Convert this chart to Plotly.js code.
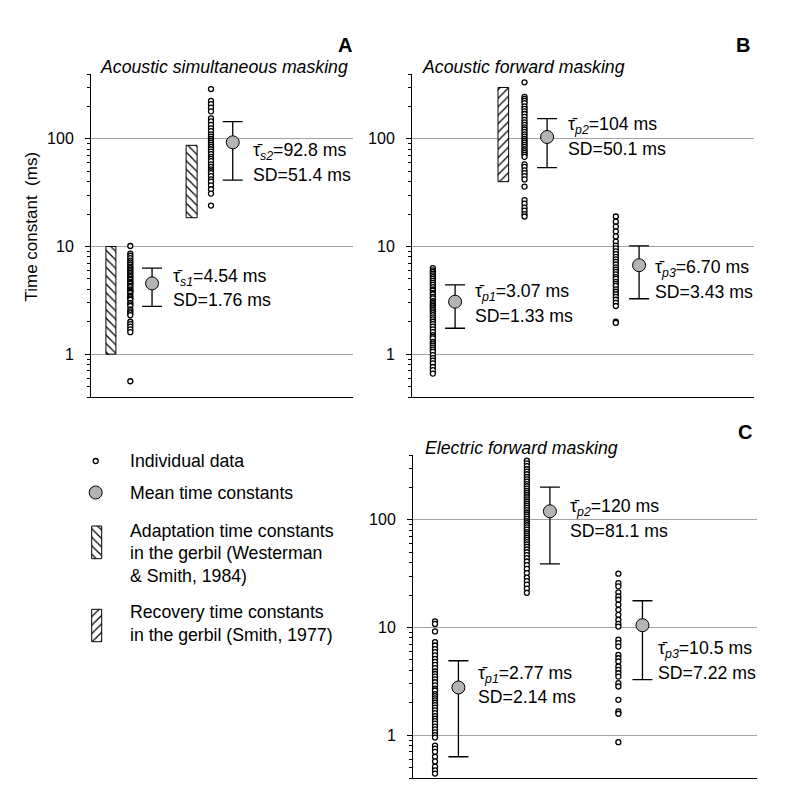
<!DOCTYPE html>
<html>
<head>
<meta charset="utf-8">
<script src="https://cdn.plot.ly/plotly-3.0.1.min.js"></script>
<style>
  body { margin: 0; background: white; }
  #chart { width: 800px; height: 802px; }
</style>
</head>
<body>
<div id="chart"></div>
<script>
// individual time constants (ms)
let simS1 = [10.1, 8.6, 8.2, 7.8, 7.4, 7.1, 6.8, 6.5, 6.3, 6.1, 5.9, 5.7, 5.5, 5.3, 5.2, 5.0, 4.9, 4.7, 4.6, 4.5,
    4.3, 4.2, 4.0, 3.9, 3.8, 3.7, 3.5, 3.4, 3.3, 3.2, 3.0, 2.9, 2.8, 2.6, 2.5, 2.4, 2.3, 2.0, 1.9, 1.8, 1.7, 1.6, 0.56];
let simS2 = [290, 225, 210, 195, 180, 155, 145, 135, 125, 118, 110, 105, 100, 96, 92, 88, 84, 80, 76, 72,
    68, 65, 62, 58, 55, 52, 50, 48, 45, 42, 40, 37, 34, 31, 24];

let acFwdP1 = [6.3, 6.0, 5.8, 5.6, 5.4, 5.2, 5.0, 4.8, 4.6, 4.4, 4.2, 4.0, 3.9, 3.7, 3.6, 3.4, 3.3, 3.1, 3.0, 2.9,
    2.8, 2.7, 2.6, 2.5, 2.4, 2.3, 2.2, 2.1, 2.0, 1.9, 1.8, 1.7, 1.6, 1.5, 1.45, 1.4, 1.3, 1.25, 1.2, 1.15,
    1.1, 1.05, 0.98, 0.92, 0.87, 0.82, 0.76, 0.71, 0.66];
let acFwdP2 = [335, 245, 235, 225, 215, 200, 190, 180, 170, 160, 150, 142, 135, 128, 122, 116, 110, 105, 100, 96,
    92, 88, 84, 80, 77, 74, 71, 68, 58, 55, 51, 48, 45, 42, 36, 27, 25, 23, 21.5, 20, 19];
let acFwdP3 = [19, 17, 15.3, 13.8, 12.4, 11.1, 10.2, 9.6, 9.0, 8.5, 8.0, 7.6, 7.2, 6.8, 6.4, 6.1, 5.8, 5.5, 5.2, 5.0,
    4.7, 4.5, 4.3, 4.0, 3.8, 3.6, 3.4, 3.2, 3.0, 2.8, 2.0, 1.95];

let elFwdP1 = [11.4, 10.8, 9.2, 7.3, 6.8, 6.3, 5.9, 5.5, 5.1, 4.8, 4.5, 4.2, 3.9, 3.7, 3.5, 3.3, 3.1, 2.9, 2.7, 2.6,
    2.4, 2.3, 2.2, 2.1, 2.0, 1.9, 1.8, 1.7, 1.6, 1.5, 1.42, 1.35, 1.28, 1.2, 1.13, 1.06, 1.0, 0.95, 0.8, 0.75,
    0.7, 0.63, 0.57, 0.51, 0.47, 0.44];
let elFwdP2 = [354, 335, 315, 295, 280, 265, 250, 238, 226, 215, 205, 195, 186, 178, 170, 162, 155, 148, 141, 135,
    129, 123, 117, 112, 107, 102, 97, 93, 89, 85, 81, 77, 74, 71, 68, 65, 62, 59, 56, 53,
    50, 47, 44, 41, 38, 35, 32, 29, 27, 25, 23, 21];
let elFwdP3 = [31.6, 25.8, 24.1, 21.2, 19.4, 18.1, 16.3, 14.6, 13.1, 11.8, 10.8, 10.2, 7.7, 7.15, 6.65, 5.56, 5.18,
    4.83, 4.34, 4.04, 3.76, 3.5, 3.04, 2.83, 2.13, 1.66, 1.58, 0.86];

// means and SDs
let meansA = [4.54, 92.8];
let sdsA = [1.76, 51.4];
let meansB = [3.07, 104, 6.70];
let sdsB = [1.33, 50.1, 3.43];
let meansC = [2.77, 120, 10.5];
let sdsC = [2.14, 81.1, 7.22];

// gerbil reference ranges (ms)
let adaptRanges = [[1, 10], [18.5, 87]];
let recoveryRange = [40, 300];

let tickVals = [1, 10, 100];
let minorVals = [0.4, 0.5, 0.6, 0.7, 0.8, 0.9, 2, 3, 4, 5, 6, 7, 8, 9, 20, 30, 40, 50, 60, 70, 80, 90, 200, 300, 400];

const W = 800, H = 802;
const px = x => x / W;
const py = y => 1 - y / H;

const FONT = "Liberation Sans, Arial, sans-serif";
const MEAN_FILL = '#b4b4b4';
const TXT = 17.7;

function dots(vals, pos, xa, ya) {
    return {
        type: 'scatter', mode: 'markers', xaxis: xa, yaxis: ya,
        x: vals.map(() => pos), y: vals,
        marker: { symbol: 'circle', size: 5, color: 'white', line: { color: 'black', width: 1.3 } },
        hoverinfo: 'y'
    };
}

function means(vals, sds, pos, xa, ya) {
    return {
        type: 'scatter', mode: 'markers', xaxis: xa, yaxis: ya,
        x: pos, y: vals,
        error_y: { type: 'data', array: sds, visible: true, color: 'black', thickness: 1.3, width: 10 },
        marker: { symbol: 'circle', size: 13, color: MEAN_FILL, line: { color: 'black', width: 1 } }
    };
}

function hatch(range, pos, w, shape, xa, ya) {
    return {
        type: 'bar', xaxis: xa, yaxis: ya,
        x: [pos], base: [range[0]], y: [range[1] - range[0]], width: [w],
        marker: {
            color: 'white',
            line: { color: 'black', width: 1 },
            pattern: { shape: shape, size: 6, solidity: 0.2, fgcolor: 'black', bgcolor: 'white' }
        },
        hoverinfo: 'skip'
    };
}

let data = [
    // panel A
    hatch(adaptRanges[0], 7.6, 3.8, '\\', 'x', 'y'),
    hatch(adaptRanges[1], 38.4, 4.2, '\\', 'x', 'y'),
    dots(simS1, 15.0, 'x', 'y'),
    dots(simS2, 45.8, 'x', 'y'),
    means(meansA, sdsA, [23.3, 54.1], 'x', 'y'),
    // panel B
    hatch(recoveryRange, 26.7, 3.1, '/', 'x2', 'y2'),
    dots(acFwdP1, 6.1, 'x2', 'y2'),
    dots(acFwdP2, 32.9, 'x2', 'y2'),
    dots(acFwdP3, 59.6, 'x2', 'y2'),
    means(meansB, sdsB, [12.6, 39.5, 66.4], 'x2', 'y2'),
    // panel C
    dots(elFwdP1, 6.4, 'x3', 'y3'),
    dots(elFwdP2, 33.1, 'x3', 'y3'),
    dots(elFwdP3, 59.7, 'x3', 'y3'),
    means(meansC, sdsC, [13.2, 39.8, 66.7], 'x3', 'y3'),
    // legend symbols (pixel-unit axes)
    {
        type: 'scatter', mode: 'markers', xaxis: 'x4', yaxis: 'y4', x: [95.7], y: [461],
        marker: { symbol: 'circle', size: 5, color: 'white', line: { color: 'black', width: 1.3 } }
    },
    {
        type: 'scatter', mode: 'markers', xaxis: 'x4', yaxis: 'y4', x: [95.7], y: [492.5],
        marker: { symbol: 'circle', size: 13, color: MEAN_FILL, line: { color: 'black', width: 1 } }
    },
    hatch([526, 558.7], 96.7, 10, '\\', 'x4', 'y4'),
    hatch([609.3, 641.7], 96.7, 10, '/', 'x4', 'y4')
];

function yAxis(domain, anchor) {
    return {
        type: 'log', domain: domain, anchor: anchor,
        range: [Math.log10(0.4), Math.log10(400)],
        tickmode: 'array', tickvals: tickVals, ticktext: ['1', '10', '100'],
        ticks: 'outside', ticklen: 5, tickwidth: 1, tickcolor: 'black',
        ticklabelstandoff: 8,
        tickfont: { size: 16, color: 'black' },
        showline: true, linecolor: 'black', linewidth: 1,
        showgrid: true, gridcolor: '#a3a3a3', gridwidth: 1,
        zeroline: false,
        minor: { tickmode: 'array', tickvals: minorVals, ticks: 'outside', ticklen: 3, tickcolor: 'black', showgrid: false }
    };
}

function xAxis(domain, anchor) {
    return {
        domain: domain, anchor: anchor, range: [0, 100],
        showline: true, linecolor: 'black', linewidth: 1,
        showticklabels: false, ticks: '', showgrid: false, zeroline: false
    };
}

function label(text, x, y, opts) {
    return Object.assign({
        text: text, xref: 'paper', yref: 'paper', x: px(x), y: py(y),
        xanchor: 'left', yanchor: 'middle', showarrow: false,
        font: { size: TXT, color: 'black' }
    }, opts || {});
}

let tau = 'τ\u0304';

let annotations = [
    // panel letters
    label('<b>A</b>', 354, 45, { xanchor: 'right', font: { size: 20, color: 'black' } }),
    label('<b>B</b>', 752, 45, { xanchor: 'right', font: { size: 20, color: 'black' } }),
    label('<b>C</b>', 754, 432, { xanchor: 'right', font: { size: 20, color: 'black' } }),
    // panel titles
    label('<i>Acoustic simultaneous masking</i>', 98, 67),
    label('<i>Acoustic forward masking</i>', 420, 67),
    label('<i>Electric forward masking</i>', 423, 448),
    // y title
    label('Time constant\u00a0\u00a0(ms)', 30.5, 227, { xanchor: 'center', textangle: -90, font: { size: 17, color: 'black' } }),
    // panel A stats
    label(tau + '<sub><i>s1</i></sub>=4.54 ms', 171, 277),
    label('SD=1.76 ms', 171, 300),
    label(tau + '<sub><i>s2</i></sub>=92.8 ms', 251, 152),
    label('SD=51.4 ms', 251, 175),
    // panel B stats
    label(tau + '<sub><i>p1</i></sub>=3.07 ms', 473, 293),
    label('SD=1.33 ms', 473, 316),
    label(tau + '<sub><i>p2</i></sub>=104 ms', 566, 126),
    label('SD=50.1 ms', 566, 149),
    label(tau + '<sub><i>p3</i></sub>=6.70 ms', 653, 268),
    label('SD=3.43 ms', 653, 292),
    // panel C stats
    label(tau + '<sub><i>p1</i></sub>=2.77 ms', 476, 674),
    label('SD=2.14 ms', 476, 697),
    label(tau + '<sub><i>p2</i></sub>=120 ms', 568, 507),
    label('SD=81.1 ms', 568, 531),
    label(tau + '<sub><i>p3</i></sub>=10.5 ms', 656, 649),
    label('SD=7.22 ms', 656, 673),
    // legend text
    label('Individual data', 128, 461),
    label('Mean time constants', 128, 492.5),
    label('Adaptation time constants', 128, 530.5),
    label('in the gerbil (Westerman', 128, 553),
    label('& Smith, 1984)', 128, 575.5),
    label('Recovery time constants', 128, 612),
    label('in the gerbil (Smith, 1977)', 128, 635)
];

let layout = {
    width: W, height: H,
    margin: { l: 0, r: 0, t: 0, b: 0 },
    paper_bgcolor: 'white', plot_bgcolor: 'rgba(0,0,0,0)',
    font: { family: FONT, color: 'black' },
    showlegend: false,
    barmode: 'overlay',
    xaxis: xAxis([px(91), px(353)], 'y'),
    yaxis: yAxis([py(397), py(74)], 'x'),
    xaxis2: xAxis([px(412), px(754)], 'y2'),
    yaxis2: yAxis([py(397), py(74)], 'x2'),
    xaxis3: xAxis([px(413), px(757)], 'y3'),
    yaxis3: yAxis([py(778), py(455)], 'x3'),
    xaxis4: { domain: [0, px(360)], anchor: 'y4', range: [0, 360], visible: false },
    yaxis4: { domain: [py(660), py(420)], anchor: 'x4', range: [660, 420], visible: false },
    annotations: annotations
};

Plotly.newPlot('chart', data, layout, { staticPlot: true });
</script>
</body>
</html>
